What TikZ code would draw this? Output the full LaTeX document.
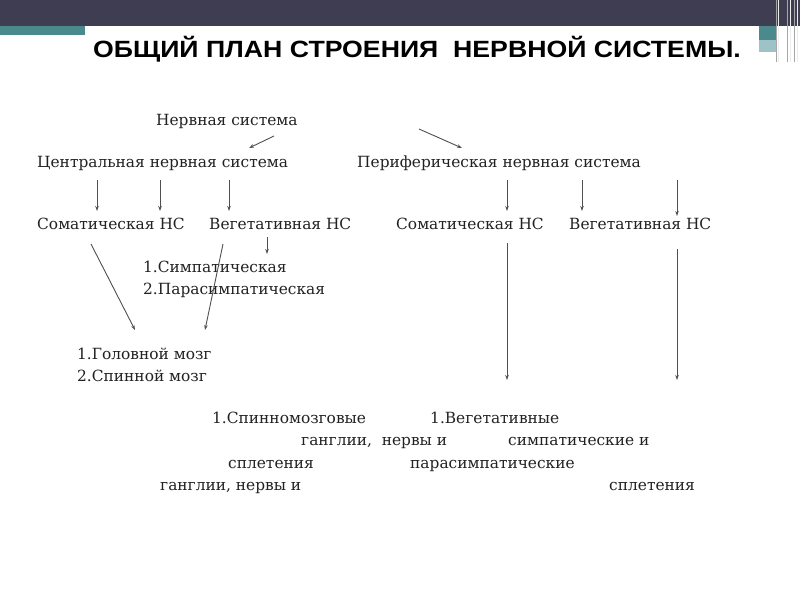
\documentclass[tikz,border=0pt]{standalone}
\usepackage{fontspec}
\setmainfont{DejaVu Serif}
\newfontfamily\titlefont{Liberation Sans}
\usetikzlibrary{arrows.meta}
\definecolor{darkbar}{HTML}{3E3D52}
\definecolor{tealA}{HTML}{4A8A8C}
\definecolor{tealB}{HTML}{9EC3C7}
\definecolor{arrowgray}{HTML}{505050}
\definecolor{txt}{HTML}{222222}
\tikzset{
  lbl/.style={anchor=base west, inner sep=0pt, text=txt, font=\fontsize{15.4}{15.4}\selectfont},
  arr/.style={draw=arrowgray, line width=0.9pt, -{Stealth[length=5pt,width=3.5pt]}},
}
\begin{document}
\begin{tikzpicture}[x=1pt,y=-1pt]
\useasboundingbox (0,0) rectangle (800,600);
\fill[white] (0,0) rectangle (800,600);
% header decoration
\fill[darkbar] (0,0) rectangle (800,26);
\fill[tealA] (0,26) rectangle (85,35);
\fill[tealA] (759,26) rectangle (777,40);
\fill[tealB] (759,40) rectangle (777,52);
\foreach \xx in {776,787,794} \draw[gray!70, line width=0.8pt] (\xx,0) -- (\xx,62);
\foreach \xx in {778.5,790,797} \draw[white!85!gray, line width=1pt] (\xx,0) -- (\xx,62);
% title
\node[anchor=base west, inner sep=0pt, font=\titlefont\bfseries\fontsize{23.5}{23.5}\selectfont, text=black] (title) at (93,57) {\scalebox{1.135}[1]{ОБЩИЙ ПЛАН СТРОЕНИЯ \ НЕРВНОЙ СИСТЕМЫ.}};
% texts
\node[lbl] (ns) at (156,125) {Нервная система};
\node[lbl] (cns) at (37,167) {Центральная нервная система};
\node[lbl] (pns) at (357,167) {Периферическая нервная система};
\node[lbl] (csom) at (37,229) {Соматическая НС};
\node[lbl] (cveg) at (209,229) {Вегетативная НС};
\node[lbl] (psom) at (396,229) {Соматическая НС};
\node[lbl] (pveg) at (569,229) {Вегетативная НС};
\node[lbl] (simp) at (143,272) {1.Симпатическая};
\node[lbl] (para) at (143,294) {2.Парасимпатическая};
\node[lbl] (gm) at (77,359) {1.Головной мозг};
\node[lbl] (sm) at (77,381) {2.Спинной мозг};
\node[lbl] (b1a) at (212,423) {1.Спинномозговые};
\node[lbl] (b1b) at (430,423) {1.Вегетативные};
\node[lbl] (b2a) at (301,445) {ганглии,\ \ нервы и};
\node[lbl] (b2b) at (508,445) {симпатические и};
\node[lbl] (b3a) at (228,468) {сплетения};
\node[lbl] (b3b) at (410,468) {парасимпатические};
\node[lbl] (b4a) at (160,490) {ганглии, нервы и};
\node[lbl] (b4b) at (609,490) {сплетения};
% arrow endpoints
\coordinate (a1s) at (274,136); \coordinate (a1e) at (249,148);
\coordinate (a2s) at (419,129); \coordinate (a2e) at (462,148);
\coordinate (c1s) at (97,180);  \coordinate (c1e) at (97,211);
\coordinate (c2s) at (160,180); \coordinate (c2e) at (160,211);
\coordinate (c3s) at (229,180); \coordinate (c3e) at (229,211);
\coordinate (p1s) at (507,180); \coordinate (p1e) at (507,211);
\coordinate (p2s) at (582,180); \coordinate (p2e) at (582,211);
\coordinate (p3s) at (677,180); \coordinate (p3e) at (677,216);
\coordinate (vs) at (267,237);  \coordinate (ve) at (267,254);
\coordinate (d1s) at (91,244);  \coordinate (d1e) at (135,330);
\coordinate (d2s) at (223,244); \coordinate (d2e) at (205,330);
\coordinate (l1s) at (507,243); \coordinate (l1e) at (507,380);
\coordinate (l2s) at (677,249); \coordinate (l2e) at (677,380);
% arrows
\foreach \s/\e in {a1s/a1e,a2s/a2e,c1s/c1e,c2s/c2e,c3s/c3e,p1s/p1e,p2s/p2e,p3s/p3e,vs/ve,d1s/d1e,d2s/d2e,l1s/l1e,l2s/l2e}
  \draw[arr] (\s) -- (\e);
\end{tikzpicture}
\end{document}
